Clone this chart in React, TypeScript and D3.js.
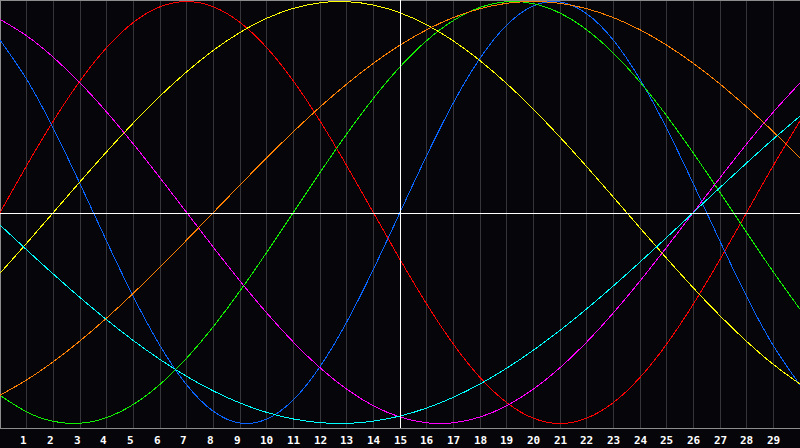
import * as d3 from 'd3'
import { useEffect, useRef } from 'react'

// days shown on the chart (0 = left edge, 30 = right edge)
const days = d3.range(0, 31)
const tickLabels = ['1', '2', '3', '4', '5', '6', '7', '8', '9', '10', '11', '12', '13', '14', '15',
  '16', '17', '18', '19', '20', '21', '22', '23', '24', '25', '26', '27', '28', '29']
const today = 15

// values, one per day
const emotional = [0, 0.2225, 0.4339, 0.6235, 0.7818, 0.901, 0.9749, 1, 0.9749, 0.901, 0.7818, 0.6235, 0.4339, 0.2225, 0,
  -0.2225, -0.4339, -0.6235, -0.7818, -0.901, -0.9749, -1, -0.9749, -0.901, -0.7818, -0.6235, -0.4339, -0.2225, 0, 0.2225, 0.4339]
const physical = [0.817, 0.6311, 0.3984, 0.1362, -0.1362, -0.3984, -0.6311, -0.817, -0.9423, -0.9977, -0.9791, -0.8879, -0.7308, -0.5196, -0.2698,
  0, 0.2698, 0.5196, 0.7308, 0.8879, 0.9791, 0.9977, 0.9423, 0.817, 0.6311, 0.3984, 0.1362, -0.1362, -0.3984, -0.6311, -0.817]
const intellectual = [-0.866, -0.945, -0.9898, -0.9989, -0.9718, -0.9096, -0.8146, -0.6901, -0.5406, -0.3717, -0.1893, 0, 0.1893, 0.3717, 0.5406,
  0.6901, 0.8146, 0.9096, 0.9718, 0.9989, 0.9898, 0.945, 0.866, 0.7557, 0.6182, 0.4582, 0.2817, 0.0951, -0.0951, -0.2817, -0.4582]
const intuitive = [0.9158, 0.8372, 0.7357, 0.6142, 0.4759, 0.3247, 0.1646, 0, -0.1646, -0.3247, -0.4759, -0.6142, -0.7357, -0.8372, -0.9158,
  -0.9694, -0.9966, -0.9966, -0.9694, -0.9158, -0.8372, -0.7357, -0.6142, -0.4759, -0.3247, -0.1646, 0, 0.1646, 0.3247, 0.4759, 0.6142]
const aesthetic = [-0.2881, -0.1456, 0, 0.1456, 0.2881, 0.4244, 0.5517, 0.6671, 0.7685, 0.8533, 0.9203, 0.9675, 0.994, 0.9993, 0.9834,
  0.9465, 0.8894, 0.8133, 0.7199, 0.6112, 0.4894, 0.3572, 0.2174, 0.073, -0.073, -0.2174, -0.3572, -0.4894, -0.6112, -0.7199, -0.8133]
const awareness = [-0.866, -0.7934, -0.7071, -0.6088, -0.5, -0.3827, -0.2588, -0.1305, 0, 0.1305, 0.2588, 0.3827, 0.5, 0.6088, 0.7071,
  0.7934, 0.866, 0.9239, 0.9659, 0.9914, 1, 0.9914, 0.9659, 0.9239, 0.866, 0.7934, 0.7071, 0.6088, 0.5, 0.3827, 0.2588]
const spiritual = [-0.0592, -0.1769, -0.292, -0.4031, -0.5085, -0.6068, -0.6965, -0.7765, -0.8457, -0.9028, -0.9473, -0.9786, -0.996, -0.9996, -0.989,
  -0.9646, -0.9267, -0.8758, -0.8127, -0.738, -0.6528, -0.5586, -0.4566, -0.3482, -0.2349, -0.1183, 0, 0.1183, 0.2349, 0.3482, 0.4566]

const seriesNames = ['emotional', 'physical', 'intellectual', 'intuitive', 'aesthetic', 'awareness', 'spiritual']
const seriesValues = [emotional, physical, intellectual, intuitive, aesthetic, awareness, spiritual]
const seriesColors = ['#ff0000', '#0a64ff', '#10f000', '#ff00ff', '#ffff00', '#ff8000', '#00ffff']

export default function App() {
  const ref = useRef<SVGSVGElement>(null)

  useEffect(() => {
    if (!ref.current) return
    const width = 800
    const height = 448
    const plotBottom = 428

    const x = d3.scaleLinear().domain([0, 30]).range([0, width])
    const y = d3.scaleLinear().domain([-1, 1]).range([423.5, 1.5])

    const svg = d3.select(ref.current)
      .attr('width', width)
      .attr('height', height)
    svg.selectAll('*').remove()

    svg.append('rect')
      .attr('width', width)
      .attr('height', height)
      .attr('fill', '#05050a')

    // day grid
    svg.append('g')
      .selectAll('line')
      .data(days.slice(1, -1))
      .enter()
      .append('line')
      .attr('x1', d => Math.floor(x(d)) + 0.5)
      .attr('x2', d => Math.floor(x(d)) + 0.5)
      .attr('y1', 0)
      .attr('y2', plotBottom)
      .attr('stroke', '#36363a')
      .attr('shape-rendering', 'crispEdges')

    // frame
    svg.append('path')
      .attr('d', `M0.5,${plotBottom}V0.5H${width}M0,${plotBottom + 0.5}H${width}`)
      .attr('fill', 'none')
      .attr('stroke', '#8c8c8c')
      .attr('shape-rendering', 'crispEdges')

    const line = d3.line<number>()
      .x((_d, i) => x(days[i]))
      .y(d => y(d))
      .curve(d3.curveNatural)

    svg.append('g')
      .selectAll('path')
      .data(seriesValues)
      .enter()
      .append('path')
      .attr('class', (_d, i) => seriesNames[i])
      .attr('d', d => line(d))
      .attr('fill', 'none')
      .attr('stroke', (_d, i) => seriesColors[i])
      .attr('stroke-width', 1)
      .attr('shape-rendering', 'crispEdges')

    // zero line and today marker
    svg.append('line')
      .attr('x1', 0)
      .attr('x2', width)
      .attr('y1', 213.5)
      .attr('y2', 213.5)
      .attr('stroke', '#ffffff')
      .attr('shape-rendering', 'crispEdges')
    svg.append('line')
      .attr('x1', Math.floor(x(today)) + 0.5)
      .attr('x2', Math.floor(x(today)) + 0.5)
      .attr('y1', 0)
      .attr('y2', plotBottom)
      .attr('stroke', '#ffffff')
      .attr('shape-rendering', 'crispEdges')

    svg.append('g')
      .selectAll('text')
      .data(tickLabels)
      .enter()
      .append('text')
      .attr('x', (_d, i) => Math.floor(x(days[i + 1])) - 6)
      .attr('y', 443.5)
      .attr('fill', '#ffffff')
      .attr('font-family', 'DejaVu Sans Mono, monospace')
      .attr('font-weight', 'bold')
      .attr('font-size', 11)
      .text(d => d)
  }, [])

  return (
    <div style={{ position: 'fixed', left: 0, top: 0, width: 800, height: 448 }}>
      <svg ref={ref} style={{ display: 'block' }} />
    </div>
  )
}
